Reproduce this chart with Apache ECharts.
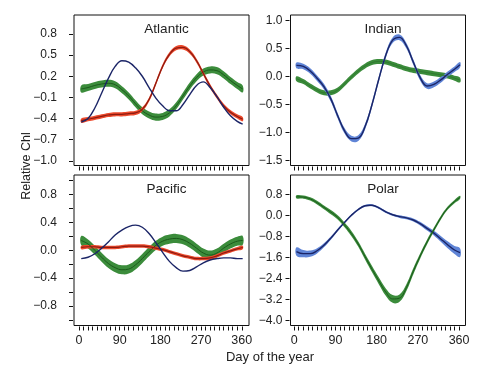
<!DOCTYPE html>
<html>
<head>
<meta charset="utf-8">
<script src="https://cdn.jsdelivr.net/npm/echarts@6/dist/echarts.min.js"></script>
<style>html,body{margin:0;padding:0;background:#fff}#c{width:492px;height:373px}</style>
</head>
<body>
<div id="c"></div>
<script>
// ---------- DATA ----------
const days = [5,20,35,50,65,80,95,110,125,140,155,170,185,200,215,230,245,260,275,290,305,320,335,350,362];

const panelTitles = ['Atlantic','Indian','Pacific','Polar'];

// Atlantic
const atlGreen = [0.02,0.04,0.07,0.09,0.10,0.08,0.01,-0.08,-0.19,-0.29,-0.35,-0.38,-0.37,-0.32,-0.22,-0.08,0.06,0.18,0.26,0.29,0.28,0.22,0.14,0.07,0.02];
const atlRed   = [-0.43,-0.41,-0.39,-0.37,-0.35,-0.34,-0.34,-0.33,-0.32,-0.27,-0.13,0.10,0.34,0.51,0.60,0.61,0.55,0.42,0.24,0.06,-0.09,-0.22,-0.31,-0.37,-0.41];
const atlBlue  = [-0.45,-0.40,-0.25,-0.04,0.17,0.34,0.42,0.40,0.32,0.20,0.04,-0.11,-0.22,-0.29,-0.29,-0.20,-0.06,0.07,0.12,0.04,-0.09,-0.24,-0.36,-0.44,-0.48];
const atlGreenCI = days.map(() => 0.05);
const atlRedCI   = days.map(() => 0.03);

// Indian
const indBlue  = [0.20,0.18,0.10,-0.03,-0.18,-0.40,-0.70,-0.97,-1.11,-1.10,-0.89,-0.50,-0.04,0.38,0.65,0.70,0.55,0.26,-0.02,-0.17,-0.14,-0.06,0.04,0.13,0.21];
const indGreen = [-0.04,-0.09,-0.17,-0.24,-0.29,-0.29,-0.24,-0.13,-0.01,0.10,0.19,0.25,0.27,0.26,0.22,0.18,0.14,0.11,0.09,0.07,0.05,0.03,0.01,-0.03,-0.06];
const indBlueCI  = days.map(() => 0.05);
const indGreenCI = days.map(() => 0.045);

// Pacific
const pacBlue  = [-0.12,-0.10,-0.05,0.03,0.12,0.22,0.29,0.34,0.36,0.33,0.24,0.11,-0.03,-0.16,-0.25,-0.30,-0.29,-0.24,-0.18,-0.14,-0.12,-0.11,-0.11,-0.12,-0.12];
const pacGreen = [0.14,0.09,0.00,-0.10,-0.19,-0.25,-0.28,-0.27,-0.21,-0.12,-0.02,0.07,0.13,0.16,0.17,0.15,0.10,0.03,-0.04,-0.07,-0.04,0.03,0.09,0.13,0.14];
const pacRed   = [0.04,0.05,0.05,0.04,0.04,0.04,0.05,0.06,0.06,0.06,0.05,0.03,0.01,-0.02,-0.05,-0.08,-0.10,-0.12,-0.12,-0.11,-0.08,-0.04,-0.01,0.02,0.04];
const pacGreenCI = days.map(() => 0.065);
const pacRedCI   = days.map(() => 0.025);

// Polar
const polBlue  = [-1.38,-1.46,-1.46,-1.35,-1.14,-0.87,-0.56,-0.27,0.00,0.22,0.36,0.38,0.28,0.13,0.02,-0.05,-0.10,-0.18,-0.32,-0.50,-0.68,-0.90,-1.12,-1.32,-1.42];
const polGreen = [0.70,0.69,0.62,0.48,0.30,0.12,-0.08,-0.37,-0.70,-1.10,-1.58,-2.05,-2.50,-2.92,-3.18,-3.15,-2.75,-2.13,-1.55,-1.02,-0.55,-0.10,0.27,0.52,0.68];
const polBlueCI  = [0.16,0.14,0.12,0.10,0.08,0.06,0.05,0.04,0.04,0.04,0.04,0.04,0.04,0.04,0.04,0.05,0.05,0.06,0.07,0.08,0.09,0.11,0.13,0.15,0.17];
const polGreenCI = [0.06,0.06,0.06,0.07,0.07,0.08,0.08,0.09,0.10,0.10,0.11,0.12,0.13,0.14,0.15,0.14,0.13,0.12,0.10,0.09,0.08,0.07,0.06,0.06,0.06];

// Tick values
const xTicks  = [0,10,20,30,40,50,60,70,80,90,100,110,120,130,140,150,160,170,180,190,200,210,220,230,240,250,260,270,280,290,300,310,320,330,340,350,360];
const xLabels = [0,90,180,270,360];
const atlYTicks = [-1.0,-0.7,-0.4,-0.1,0.2,0.5,0.8];
const indYTicks = [-1.5,-1.0,-0.5,0.0,0.5,1.0];
const pacYTicks = [-1.0,-0.8,-0.6,-0.4,-0.2,0.0,0.2,0.4,0.6,0.8,1.0];
const pacYLabels = [-0.8,-0.4,0.0,0.4,0.8];
const polYTicks = [-4.0,-3.2,-2.4,-1.6,-0.8,0.0,0.8];

// ---------- STYLE ----------
const FONT = 'Liberation Sans, Arial, Helvetica, sans-serif';
const TXT = '#222';
const C = {
  green: '#3b8c3b', greenLine: '#1b5a1b',
  red: '#ec4a2c', redLine: '#8e1a10',
  blue: '#5f84d6', navy: '#1b2567'
};

const grids = [
  {left: 74, top: 15, width: 175, height: 150.5},
  {left: 290.5, top: 15, width: 175, height: 150.5},
  {left: 74, top: 175, width: 175, height: 150.5},
  {left: 290.5, top: 175, width: 175, height: 150.5}
].map(g => Object.assign({show: true, borderColor: '#111', borderWidth: 1, backgroundColor: 'transparent'}, g));

const xRanges = [[-11, 376], [-8, 374], [-11, 376], [-8, 374]];
const yRanges = [[-1.067, 1.07], [-1.59, 1.10], [-1.08, 1.08], [-4.19, 1.53]];
const yTickSets = [atlYTicks, indYTicks, pacYTicks, polYTicks];
const yLabelSets = [atlYTicks, indYTicks, pacYLabels, polYTicks];

function fmt(v) {
  if (Math.abs(v) < 1e-9) return '0.0';
  return (v < 0 ? '\u2212' : '') + Math.abs(v).toFixed(1);
}

const xAxes = grids.map((g, i) => ({
  type: 'value', gridIndex: i, min: xRanges[i][0], max: xRanges[i][1], position: 'bottom',
  axisLine: {show: false, onZero: false}, splitLine: {show: false}, offset: 1,
  axisTick: {show: true, length: 4, inside: false, customValues: xTicks, lineStyle: {color: '#111', width: 1}},
  axisLabel: {show: i >= 2, customValues: xLabels, margin: 8, color: TXT, fontFamily: FONT, fontSize: 12.5,
    formatter: v => String(Math.round(v))}
}));

const yAxes = grids.map((g, i) => ({
  type: 'value', gridIndex: i, min: yRanges[i][0], max: yRanges[i][1], position: 'left',
  axisLine: {show: false, onZero: false}, splitLine: {show: false}, offset: 1,
  axisTick: {show: true, length: 4, inside: false, customValues: yTickSets[i], lineStyle: {color: '#111', width: 1}},
  axisLabel: {show: true, customValues: yLabelSets[i], margin: (i % 2 === 0) ? 16 : 7, color: TXT, fontFamily: FONT, fontSize: 12,
    formatter: fmt}
}));

const SM = 0.4;
const series = [];
function band(gi, vals, ci, color) {
  series.push({
    type: 'custom', xAxisIndex: gi, yAxisIndex: gi, silent: true,
    data: days.map((d, k) => [d, vals[k] - ci[k], vals[k] + ci[k]]),
    encode: {x: 0, y: [1, 2]},
    renderItem: function (params, api) {
      if (params.dataIndexInside !== 0) return null;
      const n = days.length;
      const pts = [];
      for (let k = 0; k < n; k++) pts.push(api.coord([days[k], vals[k] + ci[k]]));
      for (let k = n - 1; k >= 0; k--) pts.push(api.coord([days[k], vals[k] - ci[k]]));
      return {type: 'polygon', shape: {points: pts, smooth: SM}, style: {fill: color, stroke: null}};
    }
  });
}
function line(gi, vals, color, w) {
  series.push({
    type: 'line', xAxisIndex: gi, yAxisIndex: gi,
    data: days.map((d, k) => [d, vals[k]]),
    smooth: SM, symbol: 'none', lineStyle: {color: color, width: w}, silent: true
  });
}

// Atlantic
band(0, atlGreen, atlGreenCI, C.green);
line(0, atlGreen, C.greenLine, 1);
band(0, atlRed, atlRedCI, C.red);
line(0, atlRed, C.redLine, 1.2);
line(0, atlBlue, C.navy, 1.4);
// Indian
band(1, indGreen, indGreenCI, C.green);
line(1, indGreen, '#2f7a2f', 1);
band(1, indBlue, indBlueCI, C.blue);
line(1, indBlue, C.navy, 1.4);
// Pacific
band(2, pacGreen, pacGreenCI, C.green);
line(2, pacGreen, C.greenLine, 1);
band(2, pacRed, pacRedCI, C.red);
line(2, pacRed, C.redLine, 1.2);
line(2, pacBlue, C.navy, 1.4);
// Polar
band(3, polBlue, polBlueCI, C.blue);
line(3, polBlue, C.navy, 1.4);
band(3, polGreen, polGreenCI, C.green);
line(3, polGreen, C.greenLine, 1);

const titles = grids.map((g, i) => ({
  text: panelTitles[i], left: g.left + g.width / 2, top: g.top + 2, textAlign: 'center',
  textStyle: {fontFamily: FONT, fontSize: 13.5, fontWeight: 'normal', color: TXT}
}));

const chart = echarts.init(document.getElementById('c'), null, {renderer: 'canvas'});
chart.setOption({
  animation: false,
  backgroundColor: '#fff',
  title: titles,
  grid: grids,
  xAxis: xAxes,
  yAxis: yAxes,
  series: series,
  graphic: [
    {type: 'text', x: 27, y: 166, rotation: Math.PI / 2,
      style: {text: 'Relative Chl', fill: TXT, font: '12.5px ' + FONT, textAlign: 'center', textVerticalAlign: 'middle'}},
    {type: 'text', x: 270, y: 357,
      style: {text: 'Day of the year', fill: TXT, font: '13px ' + FONT, textAlign: 'center', textVerticalAlign: 'middle'}}
  ]
});
</script>
</body>
</html>
